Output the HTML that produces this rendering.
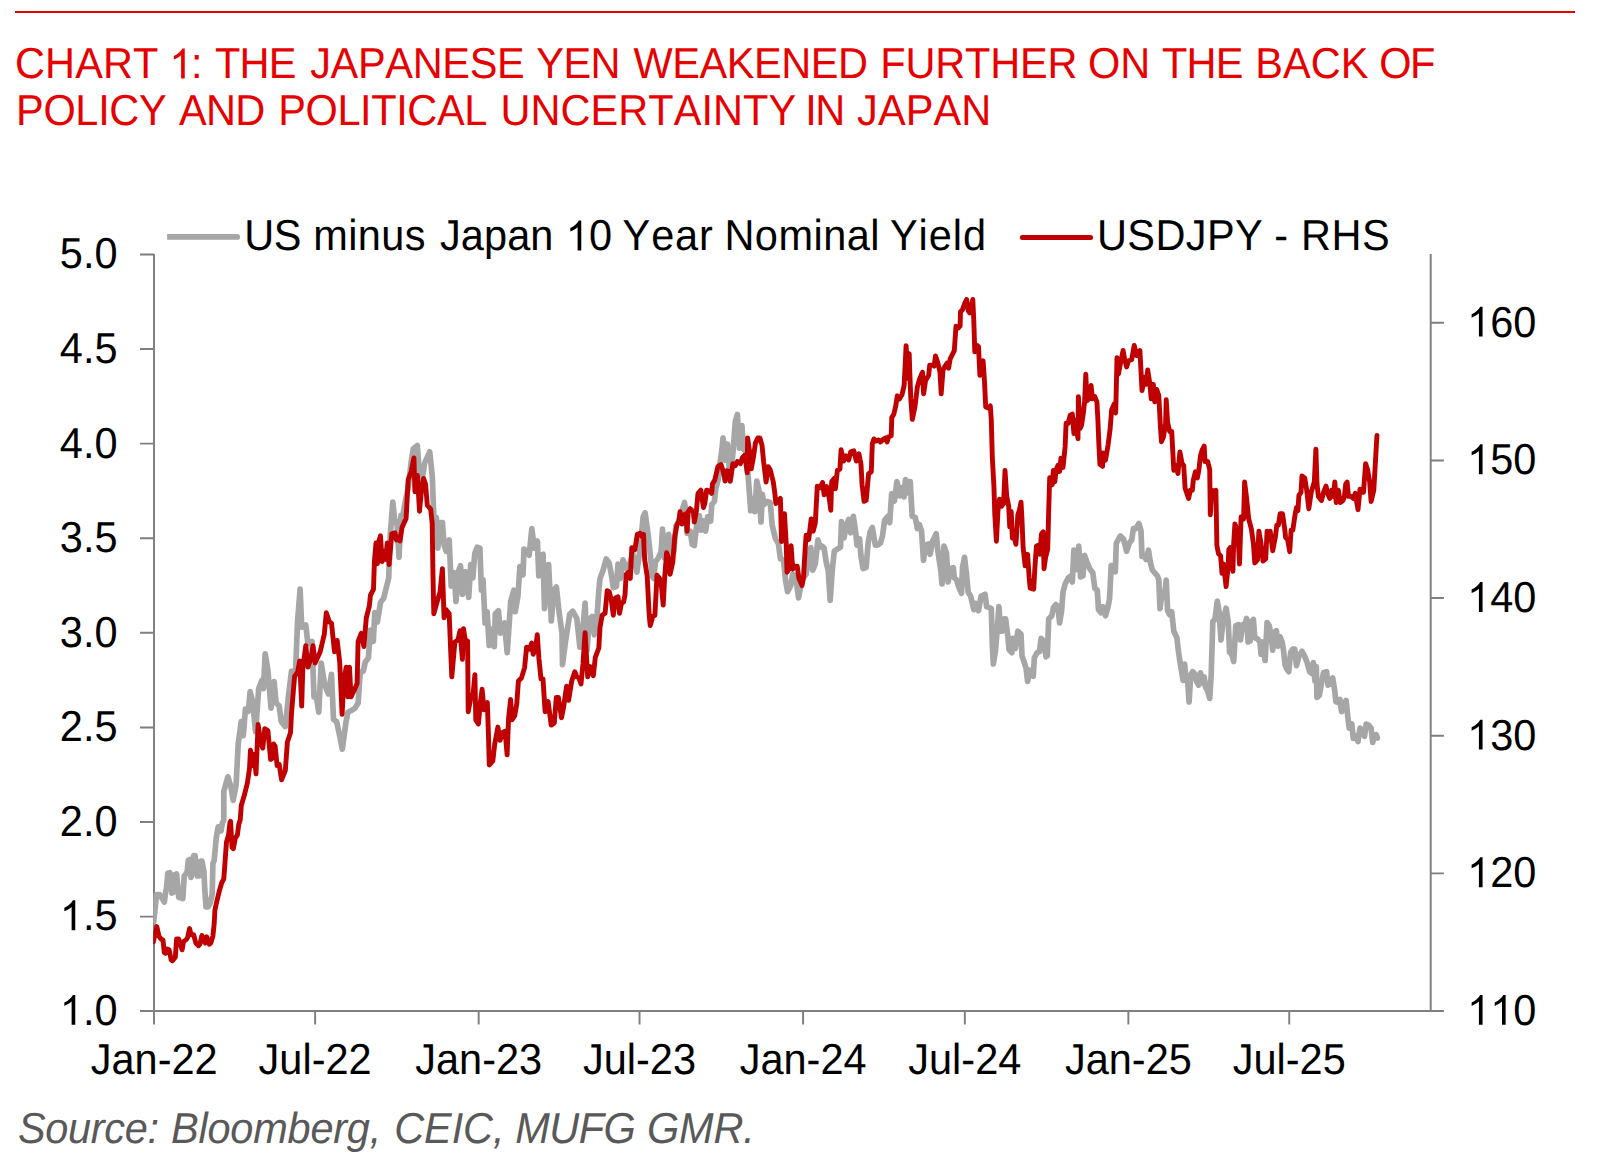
<!DOCTYPE html>
<html><head><meta charset="utf-8">
<style>
html,body{margin:0;padding:0;background:#fff;}
body{width:1599px;height:1171px;position:relative;overflow:hidden;font-family:"Liberation Sans",sans-serif;}
#rule{position:absolute;left:15px;top:11px;width:1560px;height:2px;background:#e60000;}
svg{position:absolute;left:0;top:0;}
svg text{font-family:"Liberation Sans",sans-serif;font-size:41.5px;fill:#000;text-rendering:geometricPrecision;font-kerning:none;}
svg text.ttl{fill:#e60000;}
svg text.src{fill:#595959;font-style:italic;}
</style></head><body>
<div id="rule"></div>
<svg width="1599" height="1171" viewBox="0 0 1599 1171">
<defs><clipPath id="plot"><rect x="153.2" y="240" width="1277" height="775"/></clipPath><path id="one" d="M15.46 0.00L11.81 0.00L11.81 -23.24Q10.50 -21.99 8.36 -20.73Q6.22 -19.47 4.52 -18.85L4.52 -22.37Q7.58 -23.81 9.87 -25.86Q12.16 -27.90 13.11 -29.83L15.46 -29.83Z"/></defs>
<!--AXES-->
<g stroke="#7f7f7f" stroke-width="1.95" fill="none">
<path d="M154 254V1024.5M1430.7 254V1011M140 1011H1443.9M140 254.40H154M140 349.00H154M140 443.60H154M140 538.20H154M140 632.80H154M140 727.40H154M140 822.00H154M140 916.60H154M1430.7 873.36H1443.9M1430.7 735.72H1443.9M1430.7 598.08H1443.9M1430.7 460.44H1443.9M1430.7 322.80H1443.9M315.12 1011V1024.5M478.66 1011V1024.5M639.53 1011V1024.5M803.07 1011V1024.5M964.84 1011V1024.5M1128.37 1011V1024.5M1289.25 1011V1024.5"/>
</g>
<!--/AXES-->
<!--GRAY-->
<path d="M153.6 922.5 L155.2 907.4 L156.6 894.5 L159.6 894.5 L162.3 898.6 L164.3 902 L165.8 891.1 L166.4 889 L167.8 873.3 L169.8 872.6 L171.9 893.1 L173.2 892.4 L174.6 874.7 L176.6 874 L178.7 897.2 L182.8 898.6 L184.2 876 L185.8 874 L187.2 871.6 L188.3 860.3 L189.6 859.6 L191 877.4 L193.7 855.5 L195.1 855.5 L197.1 876 L199.2 876 L200.8 861 L201.9 861 L204 871.9 L204.7 888.3 L206 906.8 L208.1 906.8 L210.1 903.3 L212.2 893.8 L212.9 863.7 L214.2 860.3 L216.3 837.8 L217.6 829.6 L218.3 826.8 L221.1 830.9 L222.4 822.7 L223.8 820 L223.8 791.2 L227.9 776.8 L231 787.1 L233.1 800.4 L236.1 785 L238.2 744 L241.3 721.5 L243.3 735.8 L245.4 709.2 L248.4 711.2 L250.1 691.7 L252.5 701 L255.6 731.7 L258.7 688.7 L261.8 680.5 L263.4 688.7 L265.2 653.8 L267.9 670.2 L271 708.1 L274.1 681.5 L276.1 703 L279.2 706.1 L281.2 721.5 L285.3 726.6 L288.4 696.9 L291.5 671.2 L295.6 670.2 L297.6 621 L300.1 589.2 L301.7 627.2 L305.8 625.1 L307.9 643.6 L312 641.5 L314 696.9 L316.1 694.8 L318.8 712.2 L321.2 663 L324.3 682.5 L326.3 688.7 L328.4 693.8 L331.5 674.3 L333.5 719.4 L336.6 721.5 L339.7 735.8 L342.3 749.2 L345.8 723.5 L347.9 712.2 L352 710.2 L355.1 708.1 L358.1 703 L360.2 672.3 L363.3 671.2 L365.3 662 L368.4 657.9 L370.4 630.2 L371.3 630.2 L373.3 641.4 L374.8 612.7 L377.4 622 L380.5 602.5 L383.6 598.4 L386.7 586.1 L388.7 577.9 L390.3 534.8 L392.8 502 L394.9 522.5 L396.9 521.5 L399 557.4 L401 515.3 L403.1 514.3 L405.1 502 L408.2 487.7 L411.3 461 L413.3 448.7 L417.4 445.6 L419.5 477.4 L421.5 483.6 L424.6 463.1 L429.7 451.8 L432.2 475.4 L433.8 516.4 L436.3 517.4 L437.9 548.1 L440 522.5 L442.4 522.5 L444.1 545.1 L446.1 551.2 L449.2 539.9 L451.2 586.1 L454.3 572.7 L456 601.5 L458.4 571.7 L460.5 565.6 L462.5 594.3 L465.6 571.7 L468.7 597.4 L470.7 564.5 L472.8 577.9 L474.8 553.3 L477.3 547.1 L479.9 548.1 L481.4 590.2 L483 579.9 L485.1 623 L487.1 611.7 L489.2 645.5 L492.2 629.1 L494.3 646.6 L495.3 613.8 L498.4 610.7 L500.4 633.2 L504.5 623 L507.2 652.7 L510.7 601.5 L513.8 590.2 L515.2 611.7 L517.9 596.3 L519.9 566.6 L523 574.8 L524 549.2 L527.1 551.2 L529.2 555.3 L531.8 528.7 L534.3 548.1 L537.4 541 L538.8 575.8 L540.4 555.3 L543.1 554.3 L544.5 608.6 L547.6 571.7 L548.6 564.5 L551.3 620.9 L553.8 590.2 L556.4 587.1 L558.9 610.7 L562 633.2 L562.5 664.6 L565.6 641 L569.7 614.3 L572.7 611.3 L576.8 618.4 L579.9 647.1 L582 640 L584 615.4 L585.1 603.1 L587.1 650.2 L589.2 619.5 L592.2 616.4 L594.3 634.8 L596.7 621.5 L598.8 590.8 L600 578.4 L603.1 570.2 L606.2 558.9 L609.2 563 L611.3 574.3 L613.3 587.6 L616.4 586.6 L618 564 L620.5 578.4 L623 559.9 L625.6 566.1 L627.7 570.2 L630.3 562 L632.8 553.8 L636.9 572.2 L640 549.7 L643.1 516.9 L645.1 512.8 L648.2 535.3 L650.2 553.8 L652.3 576.3 L653.7 578.4 L655.4 562 L658.4 557.9 L661.1 551.7 L662.5 529.2 L664.6 557.9 L666.6 542.5 L668.7 534.3 L670.7 557.9 L673.8 551.7 L675.9 526.1 L678.9 521 L682 510.7 L684.5 502.5 L686.1 513.8 L687.1 533.3 L690.2 531.2 L692.3 544.5 L694.3 545.6 L696.4 527.1 L699.4 515.8 L700.9 530.2 L703.5 521 L705.6 531.2 L707.6 516.9 L710.7 521 L711.7 504.6 L714.4 501.5 L715.8 488.2 L717.9 481 L719.9 463.6 L722 449.2 L723 437.9 L725.5 460.5 L727.5 444.1 L730.2 481 L732.9 453.3 L735.3 421.5 L737.4 414.4 L739.4 448.2 L741.9 425.6 L743.5 449.2 L746 451.3 L748.6 482 L750.7 510.7 L753.4 498.4 L754.8 511.7 L756.8 481 L758.9 490.2 L761 522 L762.4 494.3 L764 504.6 L767.1 501.5 L770.2 502.5 L772.2 525.1 L775.3 538.4 L778.4 543.5 L780.4 558.9 L783.5 559.9 L785.6 580.4 L787.6 591.7 L790.7 585.6 L792.7 574.3 L795.8 576.3 L798.5 597.9 L800.9 585.6 L803 578.4 L806.1 574.3 L808.1 559.9 L810.8 547.6 L812.8 570.2 L815.3 564 L817.9 539.9 L820 547.1 L822 546.1 L824.1 548.1 L826.1 561.5 L828.2 570.7 L830.2 600.4 L832.3 569.7 L834.3 551.2 L837.4 549.2 L840.5 547.1 L841.5 521.5 L844 537.9 L846 526.6 L848.7 519.4 L850.7 532.8 L853.4 516.4 L855.9 533.8 L856.9 545.1 L859.6 538.9 L861 556.3 L863 568.6 L866.1 567.6 L868.2 542 L870.2 531.7 L872.3 527.6 L875.3 545.1 L877.4 545.1 L880.5 543 L882.5 535.8 L884.6 520.5 L887.6 516.4 L889.7 522.5 L891.7 493.8 L894.4 501 L896.9 481.5 L899.9 495.9 L902 487.7 L904 496.9 L905.5 479.5 L908.1 492.8 L910.2 481.5 L912.2 516.4 L915.3 517.4 L917.4 528.7 L919.4 524.6 L921.5 530.7 L923.5 560.4 L925.6 545.1 L928.6 544 L930.1 554.3 L932.7 541 L936.2 533.8 L937.9 551.2 L941 571.7 L942 584 L944 546.1 L946.5 553.3 L948.1 582 L950.6 568.6 L953.3 567.6 L954.3 577.9 L956.7 579.9 L958.4 586.1 L961.5 593.3 L962.5 567.6 L964.5 557.4 L966.2 571.7 L968.2 592.2 L970.7 596.3 L973.8 609.7 L975.8 603.5 L978.5 610.7 L981 596.4 L985.1 594.3 L986.6 606.6 L989.2 607.6 L991.3 608.7 L992.3 643.5 L993.3 664 L995.4 651.7 L997.4 627.1 L998.9 606.6 L1000.5 631.2 L1002.1 631.2 L1004.2 618.9 L1005.6 618.9 L1007.7 635.3 L1009.1 649.7 L1011.8 652.7 L1012.8 638.4 L1015.3 648.6 L1017.9 631.2 L1021 634.3 L1022 655.8 L1024.1 662 L1026.1 668.1 L1027.6 681.5 L1030.2 670.2 L1033.3 676.3 L1034.3 657.9 L1037 652.7 L1039.5 651.7 L1041.1 638.4 L1044 641.5 L1046 656.8 L1047.3 655.8 L1048.7 618.9 L1051.8 615.8 L1053.4 607.6 L1055.9 604.6 L1057.9 606.6 L1059.6 623 L1061.6 610.7 L1063 592.3 L1065.1 584.1 L1068.2 577.9 L1071.2 575.9 L1072.3 582 L1073.9 550.2 L1076 569.7 L1078.8 546.1 L1080.5 576.9 L1082.9 575.9 L1084.6 555.4 L1086.6 561.5 L1089.7 568.7 L1092.8 572.8 L1094.8 588.2 L1097.3 590.2 L1098.5 609.7 L1101 612.8 L1103 606.6 L1105.5 615.8 L1108.1 606.6 L1109.6 598.4 L1111.2 565.6 L1114.3 565.6 L1115.3 571.8 L1116.3 543.1 L1120.4 535.9 L1123.5 539 L1126.6 551.3 L1129.3 543.1 L1131.7 540 L1133.4 528.7 L1135.8 528.7 L1138.9 523.6 L1141 530.8 L1142 556.4 L1144 555.4 L1146.1 559.5 L1148.5 550.2 L1150.2 561.5 L1152.2 569.7 L1154.7 572.8 L1157.4 575.9 L1158.8 580 L1160 608.7 L1162.1 592.3 L1164.5 596.4 L1166.2 580 L1167.6 610.7 L1169.7 614.8 L1171.7 611.7 L1173.8 631.2 L1176.8 637.4 L1178.5 651.7 L1179.9 661 L1182 674.3 L1183 680.4 L1184.6 664 L1186.1 680.4 L1187.5 678.4 L1189.1 702 L1190.7 674.8 L1192.7 671.7 L1194.8 673.8 L1196.4 681 L1198.5 685.1 L1200.5 672.8 L1202.1 683 L1204.2 676.9 L1205.6 687.1 L1207.7 691.2 L1209.7 698.4 L1211.2 674.8 L1212.8 621.5 L1214.9 619.5 L1217.3 601 L1219 611.3 L1221 640 L1223.1 620.5 L1226.1 608.2 L1228.2 621.5 L1229.6 652.3 L1231.7 654.3 L1233.7 661.5 L1235.8 625.6 L1238.4 624.6 L1240.5 640 L1242.5 624.6 L1244.6 625.6 L1246.6 618.4 L1248.1 642 L1250.1 641 L1251.4 621.5 L1253.4 619.5 L1254.8 637.9 L1257.5 638.9 L1260 642 L1261 654.3 L1263 642 L1265.1 660.5 L1267.1 622.5 L1269.2 625.6 L1271.2 635.9 L1272.7 650.2 L1274.7 631.8 L1276.4 630.7 L1278 646.1 L1280.1 636.9 L1282.1 642 L1283.5 650.2 L1285 664.6 L1286.6 668.7 L1288.7 671.7 L1290.7 652.3 L1292.8 649.2 L1294.8 649.2 L1296.5 665.6 L1298.9 656.4 L1302 651.2 L1304.7 656.4 L1307.1 662.5 L1309.6 671.7 L1312.2 673.8 L1313.3 662.5 L1314.9 681 L1316.3 666.6 L1317 697.4 L1319.4 695.3 L1321.5 683 L1323.5 672.8 L1326.6 671.7 L1328 685.1 L1330.7 683 L1332.7 677.9 L1334.8 691.2 L1335.8 701.5 L1338.3 702.5 L1339.9 699.4 L1341.6 711.7 L1344 703.5 L1346.1 700.4 L1347.7 715.8 L1349.2 728.1 L1351.8 724 L1353.3 738.4 L1355.9 736.3 L1358 741.5 L1360 728.1 L1362.1 730.2 L1364.5 736.3 L1366.2 724 L1368.6 725.1 L1371.1 728.1 L1372.7 742.5 L1374.8 735.3 L1376.2 734.7 L1377.4 738" fill="none" stroke="#a6a6a6" stroke-width="5.7" stroke-linejoin="round" stroke-linecap="round" clip-path="url(#plot)"/>
<!--/GRAY-->
<!--RED-->
<path d="M153.3 941.9 L156.8 926.6 L158.9 936.1 L160.9 938.9 L163 940.2 L164.3 952.5 L165.7 953.2 L167.8 949.1 L169.1 949.8 L171.2 960.1 L172.5 960.7 L175.3 957.3 L176.6 938.9 L178.7 938.9 L182.1 949.8 L183.5 941.6 L186.2 939.6 L187.6 937.5 L189.6 928.6 L191 934.8 L193.7 934.8 L195.8 943 L198.5 945.7 L199.9 944.3 L201.9 935.5 L205.3 943 L206.7 936.8 L209.4 944.3 L210.8 943 L212.9 936.1 L214.2 923.8 L214.9 910.2 L217 900.6 L219.7 889.7 L221.7 882.9 L223.8 878.8 L225.1 861 L226.5 841.9 L228.6 835 L229.9 822.7 L230.6 821.4 L232 847.3 L233.3 848.7 L235.4 837.8 L237.4 835 L238.8 824.1 L240.2 820 L241.3 805.5 L244.3 795.3 L247.4 783 L249.5 768.6 L250.5 750.2 L252.5 765.6 L254.2 754.3 L256 773.8 L258.1 724.5 L260.7 742 L262.8 748.1 L264.8 728.6 L267.9 730.7 L270.6 759.4 L272 758.4 L273.7 744 L275.1 746.1 L277.1 765.6 L279.2 764.5 L281.6 779.9 L285.3 770.7 L287.4 742 L290.5 732.7 L291.5 713.3 L294.6 676.4 L297.6 672.3 L299.7 661 L301.7 706.1 L302.8 668.2 L305.8 645.6 L307.9 667.1 L311 657.9 L313 645.6 L315.1 663 L320.2 651.8 L324.3 634.3 L326.3 612.8 L329.4 622 L331.5 623.1 L334.5 651.8 L337.2 640.5 L339.7 662 L342.1 714.3 L343.8 681.5 L346.2 667.1 L347.9 696.9 L349.5 667.1 L351 696.9 L354 690.7 L357.1 683.5 L358.1 641.5 L361.2 633.3 L363.9 646.6 L366.3 617.9 L369.4 605.6 L370.4 595.4 L373.5 589.2 L374.4 561.5 L376 543 L377.4 563.5 L378.9 541 L380.5 535.8 L382.1 561.5 L384.2 551.2 L385.6 559.4 L387.3 543 L389.1 564.5 L391.8 533.8 L394.9 532.8 L396.5 539.9 L397.9 536.9 L400 541 L402 527.6 L406.1 518.4 L408.2 479.5 L411.3 471.3 L413.9 457.9 L414.9 491.8 L417.4 475.4 L419.5 511.2 L421.5 489.7 L423.6 478.4 L425.6 484.6 L427.3 505.1 L430.7 509.2 L432.2 523.5 L433 575.8 L433.8 613.8 L436.3 604.5 L440 592.2 L442.4 568.6 L444.1 617.9 L446.1 609.7 L449.2 613.8 L450.3 642 L451.8 676.9 L454.9 642 L457.9 640 L460 630.7 L462.4 659.4 L463.5 628.7 L465.5 642 L467.6 641 L468.2 711.7 L471.3 695.3 L472.9 696.3 L474.9 674.8 L475.8 719.9 L478.4 724 L480.5 701.5 L482.1 689.2 L484 709.7 L487.3 702.5 L488.3 730.2 L489.3 765 L492.8 760.9 L494.8 743.5 L497.9 727.1 L500 740.4 L503 732.2 L505.1 731.2 L507.1 754.8 L508.6 717.9 L510.6 699.4 L511.9 719.9 L514.7 715.8 L516.8 703.5 L518.4 681 L521.5 677.9 L524.6 667.6 L526.6 647.1 L529.7 649.2 L531.7 643 L533.2 654.3 L535.8 646.1 L537.3 634.8 L538.9 658.4 L541 678.9 L543 678.9 L545.1 711.7 L548.1 701.5 L551.2 725.1 L554.3 723 L556.3 697.4 L558.4 697.4 L561.5 717.9 L563.5 707.6 L566.6 686.1 L568.6 700.4 L571.7 681 L574.8 671.7 L576.8 676.9 L578.9 677.9 L581 684 L583 663.5 L585.1 632.8 L587.7 676.9 L590.2 666.6 L593.3 675.8 L595.3 657.4 L598.8 648.2 L600 627.6 L602.1 615.3 L605.1 613.2 L607.2 590.7 L609.2 591.7 L611.3 599.9 L613.3 615.3 L615.4 597.9 L618 596.8 L619.5 613.2 L621.5 603 L623.6 602 L625 594.8 L626.2 574.3 L628.7 572.2 L630.3 578.4 L631.8 547.6 L634.9 549.7 L637.3 534.3 L640 533.3 L642 536.3 L643.5 534.3 L644.7 559.9 L647.2 576.3 L649.2 615.3 L650.2 625.5 L652.9 616.3 L654.9 615.3 L657 575.3 L659.5 578.4 L661.1 582.5 L663.2 605 L664.6 578.4 L666.6 552.7 L668.1 556.8 L670.1 574.3 L672.8 562 L674.8 536.3 L676.9 525.1 L678.9 521 L680 511.7 L682 524 L684.1 514.8 L685.7 513.8 L687.1 531.2 L688.2 511.7 L690.2 508.7 L693.3 511.7 L694.3 522 L696.4 510.7 L698 493.3 L700.9 490.2 L702.1 498.4 L703.5 507.6 L705 502.5 L706.6 490.2 L709.7 491.2 L711.7 493.3 L712.4 484.1 L714.8 480 L717.9 466.6 L721 464.6 L723 470.7 L725.1 481 L726.7 470.7 L729.2 471.8 L730.2 481 L732.9 463.6 L735.3 465.6 L737.4 461.5 L740.4 463.6 L742.5 457.4 L744.5 455.4 L746 463.6 L747.2 472.8 L747.6 437.9 L750.1 455.4 L751.3 468.7 L753.4 457.4 L755.4 443.1 L757.9 437.9 L759.9 437.9 L762 445.1 L763.6 461.5 L766.1 482 L768.1 466.6 L770.2 469.7 L773.3 482 L774.7 492.3 L775.9 503.5 L778.4 500.5 L780.4 498.4 L781.5 541.5 L782.9 516.9 L784.5 513.8 L786.2 543.5 L787 572.2 L789.7 568.1 L791.1 545.6 L792.7 569.2 L794.8 566.1 L797.2 566.1 L798.9 578.4 L802 585.6 L803.4 578.4 L805 551.7 L806.1 535.3 L808.7 539.4 L811.2 518.9 L813.2 531.2 L815.3 523 L817.3 486.1 L820 487.7 L822.6 482.5 L824.1 494.8 L826.7 486.6 L829.2 497.9 L830.8 510.2 L831.7 481.5 L834.3 478.4 L835.4 488.7 L837.4 470.2 L839.9 469.2 L841.1 449.7 L843.6 461 L846 455.9 L848.7 460 L850.7 451.8 L853.8 450.8 L856.3 461 L858.9 453.8 L861 464.5 L862.1 485 L864.1 501.4 L866.2 500.4 L868.6 473.8 L871.3 471.7 L872.3 444 L873.9 438.9 L876 441 L878.5 439.9 L880.5 442 L883.6 438.9 L885.6 437.9 L887.1 442 L888.7 436.8 L891.2 435.8 L891.8 417.4 L893.8 414.3 L895.9 405.1 L897.3 395.8 L899.4 398.9 L902 394.8 L904.1 385.6 L905.1 366.1 L906.1 345.6 L907.6 378.4 L909.2 353.8 L909.8 372.3 L910.8 398.9 L912.3 419.4 L914.9 407.1 L916.4 394.8 L917.4 386.6 L919.5 379.4 L921.5 374.3 L922.5 372.3 L923.6 393.8 L925.6 380.5 L928.7 375.3 L929.7 365.1 L932.8 365.1 L934.2 366.1 L935.5 355.9 L937.9 363 L940 372.3 L941.2 393.8 L943 370.2 L945.1 366.1 L947.1 363 L948.6 368.2 L950.2 358.9 L954.3 350.7 L956 326.1 L958 328.2 L960.1 326.1 L960.5 311.8 L962.5 309.7 L964.6 303.6 L966.6 299.5 L968.3 310.8 L969.7 312.8 L972.8 299.5 L973.8 321 L974.8 351.8 L977.3 345.6 L978.5 346.6 L979.9 375.3 L983.1 360.8 L984.5 381.3 L985.7 406.9 L988.2 407.9 L990.3 405.9 L991.3 420.2 L992.3 457.1 L993.9 485.8 L994.8 514.5 L996.4 541.2 L998 510.4 L999.5 499.2 L1001.5 506.3 L1003.6 503.3 L1005 470.4 L1006.7 496.1 L1008.7 506.3 L1009.7 526.8 L1011.2 511.5 L1012.4 538.1 L1013.8 535 L1015.9 544.3 L1017.9 514.5 L1019.4 510.4 L1021 502.2 L1022 519.7 L1023.1 547.3 L1025.1 565.8 L1027.6 554.3 L1029.2 577.9 L1030.2 588.2 L1033.7 589.2 L1034.9 567.7 L1036.4 546.1 L1038.4 545.1 L1039.9 554.3 L1041.5 533.8 L1043.2 531.8 L1044 568.7 L1045.6 557.4 L1047.7 549.2 L1048.7 510.4 L1049.7 477.6 L1052.2 484.8 L1053.4 470.4 L1054.8 481.7 L1056.3 469.4 L1057.9 465.3 L1059.6 471.5 L1061 458.1 L1063 467.4 L1065.1 446.9 L1066.1 423.3 L1068.2 423.3 L1070.2 415.1 L1072.3 414.1 L1073.9 433.5 L1075.3 420.2 L1076.4 428.4 L1078 438.7 L1078.4 396.6 L1080.1 428.4 L1081.5 425.3 L1083.5 412 L1084.6 401.8 L1085.8 374.1 L1087 400.7 L1089.1 398.7 L1091.1 385.4 L1092.4 398.7 L1094.8 396.6 L1096.9 401.8 L1097.9 420.2 L1098.9 444.8 L1099.9 464.3 L1102.6 466.3 L1103 453 L1105.5 460.2 L1108.1 444.8 L1110.2 428.4 L1111.6 410 L1114.3 403.8 L1115.7 413 L1117 357.7 L1118.4 374.1 L1120.4 363.8 L1123.1 350.5 L1124.5 358.7 L1126.6 366.9 L1128.6 360.8 L1131.7 359.7 L1134.2 345.4 L1136.8 355.6 L1139.9 350.5 L1141 371 L1142 390.5 L1144.4 377.2 L1146.1 384.3 L1147.7 370 L1149.8 383.3 L1151.2 398.7 L1153.3 384.3 L1154.7 401.8 L1156.7 389.5 L1158.8 395.6 L1160.4 426.4 L1161.5 441.7 L1163.5 436.6 L1165.6 423.3 L1166.2 399.7 L1167.6 422.3 L1169.7 431.5 L1171.7 431.5 L1173.1 457.1 L1173.8 470.4 L1175.8 465.3 L1177.9 473.5 L1179.9 452 L1182.1 463.6 L1183.7 465.6 L1185.1 488.2 L1188.6 498.4 L1190.3 490.2 L1192.3 490.2 L1193.3 480 L1195.4 471.8 L1197.4 477.9 L1198.9 469.7 L1200.5 455.4 L1202.1 450.2 L1204.2 446.1 L1205 461.5 L1207.7 461.5 L1209.7 469.7 L1210.3 514.8 L1211.8 490.2 L1213.8 491.2 L1215.9 490.2 L1216.9 545.6 L1218.5 553.8 L1220.6 555.8 L1222 573.3 L1223.5 564 L1226.1 586.6 L1228.2 566.1 L1228.8 549.7 L1230.2 547.6 L1232.9 571.2 L1233.7 543.5 L1234.9 524 L1237.8 531.2 L1239.5 564 L1241.1 516.9 L1243.6 518.9 L1244.6 482 L1246.6 498.4 L1248.7 518.9 L1251.4 529.2 L1253.4 543.5 L1254.8 563 L1257.5 559.9 L1258.9 531.2 L1261 543.5 L1263 561 L1265.7 558.9 L1267.1 531.2 L1269.2 533.3 L1270.2 531.2 L1272.7 550.7 L1275.3 537.4 L1276.8 525.1 L1278.4 525.1 L1280.1 513.8 L1282.5 513.8 L1284.6 528.1 L1285.6 537.4 L1287.6 539.4 L1289.7 551.7 L1291.1 530.2 L1292.8 530.2 L1295.2 513.8 L1296.5 507.6 L1297.9 510.7 L1298.9 495.3 L1301 492.3 L1302 475.9 L1304.7 477.9 L1306.7 490.2 L1308.8 508.7 L1311.2 492.3 L1314.3 482 L1315.9 449.2 L1317 484.1 L1318.4 496.4 L1321.5 500.5 L1323.5 492.3 L1326 486.1 L1328 494.3 L1329.7 498.4 L1331.7 490.2 L1333.4 496.4 L1334.8 482 L1336.2 502.5 L1338.3 490.2 L1340.3 502.5 L1343 500.5 L1344.4 496.4 L1345.7 484.1 L1347.1 482 L1348.5 496.4 L1351.2 496.4 L1353.3 498.4 L1355.3 493.3 L1358 509.7 L1360 489.2 L1361.5 490.2 L1363.5 492.3 L1365.6 463.6 L1367.6 469.7 L1369.7 482 L1371.1 501.5 L1373.8 490.2 L1375.8 455.4 L1376.6 441 L1377 435.5" fill="none" stroke="#c00000" stroke-width="4.9" stroke-linejoin="round" stroke-linecap="round" clip-path="url(#plot)"/>
<!--/RED-->
<!--LABELS-->
<text transform="translate(117.5 268.4) scale(1 1.045)" text-anchor="end">5.0</text>
<text transform="translate(117.5 362.9) scale(1 1.045)" text-anchor="end">4.5</text>
<text transform="translate(117.5 457.5) scale(1 1.045)" text-anchor="end">4.0</text>
<text transform="translate(117.5 552.0) scale(1 1.045)" text-anchor="end">3.5</text>
<text transform="translate(117.5 646.6) scale(1 1.045)" text-anchor="end">3.0</text>
<text transform="translate(117.5 741.1) scale(1 1.045)" text-anchor="end">2.5</text>
<text transform="translate(117.5 835.7) scale(1 1.045)" text-anchor="end">2.0</text>
<use href="#one" x="59.81" y="930.2"/>
<text transform="translate(82.89 930.2) scale(1 1.045)">.5</text>
<use href="#one" x="59.81" y="1024.8"/>
<text transform="translate(82.89 1024.8) scale(1 1.045)">.0</text>
<use href="#one" x="1467.10" y="1024.8"/>
<use href="#one" x="1490.18" y="1024.8"/>
<text transform="translate(1513.26 1024.8) scale(1 1.045)">0</text>
<use href="#one" x="1467.10" y="887.2"/>
<text transform="translate(1490.18 887.2) scale(1 1.045)">20</text>
<use href="#one" x="1467.10" y="749.5"/>
<text transform="translate(1490.18 749.5) scale(1 1.045)">30</text>
<use href="#one" x="1467.10" y="611.9"/>
<text transform="translate(1490.18 611.9) scale(1 1.045)">40</text>
<use href="#one" x="1467.10" y="474.2"/>
<text transform="translate(1490.18 474.2) scale(1 1.045)">50</text>
<use href="#one" x="1467.10" y="336.6"/>
<text transform="translate(1490.18 336.6) scale(1 1.045)">60</text>
<text transform="translate(154.2 1074.2) scale(1 1.045)" text-anchor="middle">Jan-22</text>
<text transform="translate(315.1 1074.2) scale(1 1.045)" text-anchor="middle">Jul-22</text>
<text transform="translate(478.7 1074.2) scale(1 1.045)" text-anchor="middle">Jan-23</text>
<text transform="translate(639.5 1074.2) scale(1 1.045)" text-anchor="middle">Jul-23</text>
<text transform="translate(803.1 1074.2) scale(1 1.045)" text-anchor="middle">Jan-24</text>
<text transform="translate(964.8 1074.2) scale(1 1.045)" text-anchor="middle">Jul-24</text>
<text transform="translate(1128.4 1074.2) scale(1 1.045)" text-anchor="middle">Jan-25</text>
<text transform="translate(1289.2 1074.2) scale(1 1.045)" text-anchor="middle">Jul-25</text>
<path d="M167.1 234.1H237.2A2.87 2.87 0 0 1 237.2 239.84H167.1Z" fill="#a6a6a6"/>
<path d="M1022.4 237.5H1090.6" stroke="#c00000" stroke-width="5" stroke-linecap="round"/>
<!--/LABELS-->
<!--WORDS-->
<text transform="translate(15.00 78.4) scale(1 1.045)" class="ttl" letter-spacing="0.125">CHART</text>
<use href="#one" x="169.3" y="78.4" fill="#e60000"/>
<text transform="translate(191 78.4) scale(1 1.045)" class="ttl">:</text>
<text transform="translate(215.00 78.4) scale(1 1.045)" class="ttl" letter-spacing="-0.750">THE</text>
<text transform="translate(310.20 78.4) scale(1 1.045)" class="ttl" letter-spacing="-0.329">JAPANESE</text>
<text transform="translate(536.20 78.4) scale(1 1.045)" class="ttl" letter-spacing="-0.500">YEN</text>
<text transform="translate(633.40 78.4) scale(1 1.045)" class="ttl" letter-spacing="-0.414">WEAKENED</text>
<text transform="translate(880.20 78.4) scale(1 1.045)" class="ttl" letter-spacing="-0.150">FURTHER</text>
<text transform="translate(1088.00 78.4) scale(1 1.045)" class="ttl">ON</text>
<text transform="translate(1162.00 78.4) scale(1 1.045)" class="ttl" letter-spacing="-0.750">THE</text>
<text transform="translate(1255.20 78.4) scale(1 1.045)" class="ttl" letter-spacing="0.033">BACK</text>
<text transform="translate(1379.20 78.4) scale(1 1.045)" class="ttl" letter-spacing="-1.500">OF</text>
<text transform="translate(16.00 124.8) scale(1 1.045)" class="ttl" letter-spacing="-0.300">POLICY</text>
<text transform="translate(179.00 124.8) scale(1 1.045)" class="ttl" letter-spacing="-0.750">AND</text>
<text transform="translate(278.20 124.8) scale(1 1.045)" class="ttl" letter-spacing="-0.387">POLITICAL</text>
<text transform="translate(500.40 124.8) scale(1 1.045)" class="ttl" letter-spacing="0.070">UNCERTAINTY</text>
<text transform="translate(805.20 124.8) scale(1 1.045)" class="ttl" letter-spacing="-1.400">IN</text>
<text transform="translate(857.00 124.8) scale(1 1.045)" class="ttl" letter-spacing="0.125">JAPAN</text>
<text transform="translate(18.00 1142.8) scale(1 1.045)" class="src" letter-spacing="-0.333">Source:</text>
<text transform="translate(171.00 1142.8) scale(1 1.045)" class="src" letter-spacing="-0.222">Bloomberg,</text>
<text transform="translate(394.20 1142.8) scale(1 1.045)" class="src" letter-spacing="-0.100">CEIC,</text>
<text transform="translate(515.20 1142.8) scale(1 1.045)" class="src" letter-spacing="-0.500">MUFG</text>
<text transform="translate(647.00 1142.8) scale(1 1.045)" class="src" letter-spacing="-0.167">GMR.</text>
<text transform="translate(244.20 250.4) scale(1 1.045)" letter-spacing="-0.500">US</text>
<text transform="translate(313.20 250.4) scale(1 1.045)" letter-spacing="0.425">minus</text>
<text transform="translate(440.00 250.4) scale(1 1.045)" letter-spacing="0.075">Japan</text>
<use href="#one" x="565.8" y="250.4"/>
<text transform="translate(589 250.4) scale(1 1.045)">0</text>
<text transform="translate(622.60 250.4) scale(1 1.045)" letter-spacing="0.867">Year</text>
<text transform="translate(724.40 250.4) scale(1 1.045)" letter-spacing="0.483">Nominal</text>
<text transform="translate(890.00 250.4) scale(1 1.045)" letter-spacing="0.925">Yield</text>
<text transform="translate(1097.00 250.4) scale(1 1.045)" letter-spacing="0.380">USDJPY</text>
<text transform="translate(1274.20 250.4) scale(1 1.045)">-</text>
<text transform="translate(1301.00 250.4) scale(1 1.045)" letter-spacing="0.500">RHS</text>
<!--/WORDS-->
</svg>
</body></html>
